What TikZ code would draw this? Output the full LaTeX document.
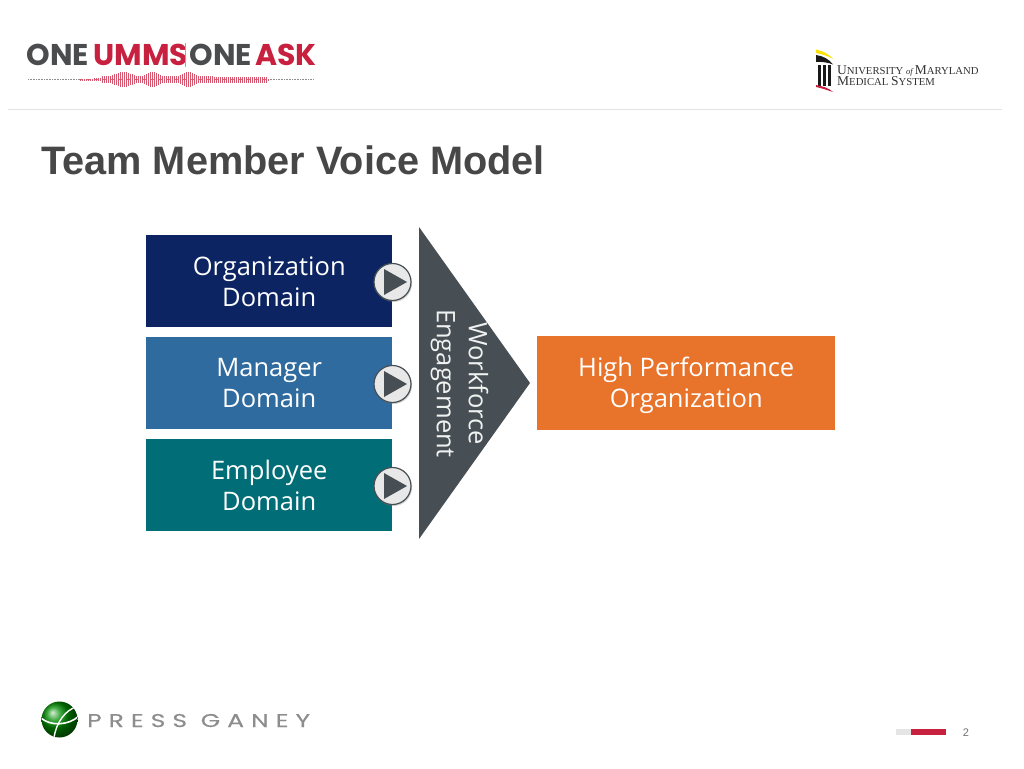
\documentclass[tikz,border=0pt]{standalone}
\usepackage{fontspec}
\setmainfont{Liberation Sans}
\newfontfamily\boxfont{Open Sans}
\newfontfamily\logofont{Poppins}
\newfontfamily\ganeyfont[FakeStretch=1.35,LetterSpace=38,FakeBold=0.4]{Poppins}
\newfontfamily\umfont{Liberation Serif}
\usetikzlibrary{shadows}
\definecolor{navy}{HTML}{0C2461}
\definecolor{midblue}{HTML}{2F6B9E}
\definecolor{teal2}{HTML}{006D77}
\definecolor{orange2}{HTML}{E8732A}
\definecolor{slate}{HTML}{474F54}
\definecolor{umred}{HTML}{C8203F}
\definecolor{logogray}{HTML}{4A4C4E}
\definecolor{ganeygray}{HTML}{8C8E8C}
\tikzset{
  x=1pt,y=-1pt,
  domainbox/.style={draw=none,minimum width=246pt,minimum height=92pt,inner sep=0pt,anchor=north west},
  domaintext/.style={inner sep=0pt,text=white,align=center,font=\boxfont\fontsize{25.5}{31}\selectfont},
  playdisc/.style={circle,minimum size=37pt,inner sep=0pt,draw=slate,line width=1.2pt,fill=black!9,
    drop shadow={shadow xshift=1pt,shadow yshift=-1.5pt,opacity=.35}},
  logotext/.style={inner sep=0pt,anchor=base west,font=\logofont\bfseries\fontsize{30}{30}\selectfont},
  umtext/.style={inner sep=0pt,anchor=base west,text=black!80,text height=8pt,text depth=0pt,font=\umfont\fontsize{13.5}{13.5}\selectfont},
}
\newcommand{\umbig}{\fontsize{13.5}{13.5}\selectfont}
\newcommand{\umsmall}{\fontsize{10.7}{10.7}\selectfont}
\begin{document}
\begin{tikzpicture}
\useasboundingbox (0,0) rectangle (1024,768);
\fill[white] (0,0) rectangle (1024,768);

% header logo
\node[logotext,text=logogray] (one1) at (26.5,66) {ONE};
\node[logotext,text=umred] (umms) at (93.5,66) {UMMS};
\draw[black!35,line width=.6pt] (185.5,43) -- (185.5,67);
\node[logotext,text=logogray] (one2) at (189.5,66) {ONE};
\node[logotext,text=umred] (ask) at (255,66) {ASK};
\draw[black!45,line width=.4pt,dash pattern=on .8pt off .8pt] (28,79.5) -- (314,79.5);
\foreach \px in {80,82,...,268}{
  \pgfmathsetmacro{\hh}{1+2*(\px>100)*(\px<268)
    +4.5*exp(-((\px-123)/10)*((\px-123)/10))
    +4.5*exp(-((\px-152)/7)*((\px-152)/7))
    +4.5*exp(-((\px-188)/8)*((\px-188)/8))}
  \draw[umred!75,line width=.8pt] (\px,79.5-\hh) -- (\px,79.5+\hh);
}

% right logo
\fill[yellow!85!orange] (816,49.5) .. controls (823,51) and (829,54) .. (833,59) .. controls (829,56.5) and (822,54) .. (816,53) -- cycle;
\fill[black!90] (816,55) .. controls (823,56) and (829,59) .. (833,64.5) .. controls (828,62.5) and (822,61.5) .. (816,62) -- cycle;
\foreach \cx in {818,823,828}{\fill[black!90] (\cx,65) rectangle (\cx+3.2,86);}
\fill[umred] (816,85) .. controls (822,86) and (829,88) .. (833,92) .. controls (827,90) and (821,88) .. (816,87) -- cycle;
\node[umtext] (um1) at (837,74.5)
  {U\umsmall NIVERSITY \fontsize{8.6}{8.6}\selectfont\itshape of \umbig\upshape M\umsmall ARYLAND};
\node[umtext] (um2) at (837,85.5)
  {M\umsmall EDICAL \umbig S\umsmall YSTEM};

% rule
\draw[black!11,line width=1pt] (8,109.5) -- (1002,109.5);

% title
\node[inner sep=0pt,anchor=base west,text=black!72,font=\bfseries\fontsize{39.7}{39.7}\selectfont] (title) at (41,174.5) {Team Member Voice Model};

% boxes
\node[domainbox,fill=navy] (org) at (146,235) {};
\node[domaintext] (orgtext) at ([yshift=-1pt]org.center) {Organization\\Domain};
\node[domainbox,fill=midblue] (mgr) at (146,337) {};
\node[domaintext] (mgrtext) at (mgr.center) {Manager\\Domain};
\node[domainbox,fill=teal2] (emp) at (146,439) {};
\node[domaintext] (emptext) at (emp.center) {Employee\\Domain};
\node[domainbox,fill=orange2,minimum width=298pt,minimum height=94pt] (hpo) at (537,336) {};
\node[domaintext] (hpotext) at ([yshift=-2pt]hpo.center) {High Performance\\Organization};

% big triangle
\fill[slate] (419,227) -- (530,383) -- (419,539) -- cycle;
\node[rotate=-90,inner sep=0pt,align=center,text=white!92!slate,font=\boxfont\fontsize{25.5}{32}\selectfont] (we) at (459.5,383.5) {Workforce\\Engagement};

% play buttons
\foreach \nm/\cy in {pa/282,pb/384,pc/486}{
  \node[playdisc] (\nm) at (392.5,\cy) {};
  \fill[slate] (384,\cy-13) -- (407,\cy) -- (384,\cy+13) -- cycle;
}

% Press Ganey logo
\begin{scope}
  \clip (59.5,719.5) circle (18);
  \shade[ball color=green!55!black] (59.5,719.5) circle (18);
  \draw[white,line width=1.6pt] (41,718) .. controls (50,726) and (68,726) .. (79,716);
  \draw[white,line width=1.4pt] (76,707) .. controls (66,710) and (56,722) .. (54,738);
\end{scope}
\node[inner sep=0pt,anchor=base west,text=ganeygray,font=\ganeyfont\fontsize{18.5}{18.5}\selectfont] (ganey) at (87,727) {PRESS GANEY};

% footer
\fill[black!10] (896,729) rectangle (911,735);
\fill[umred] (911,729) rectangle (946,735);
\node[inner sep=0pt,text=black!55,font=\fontsize{11}{11}\selectfont] (page) at (966,732.5) {2};
\end{tikzpicture}
\end{document}
